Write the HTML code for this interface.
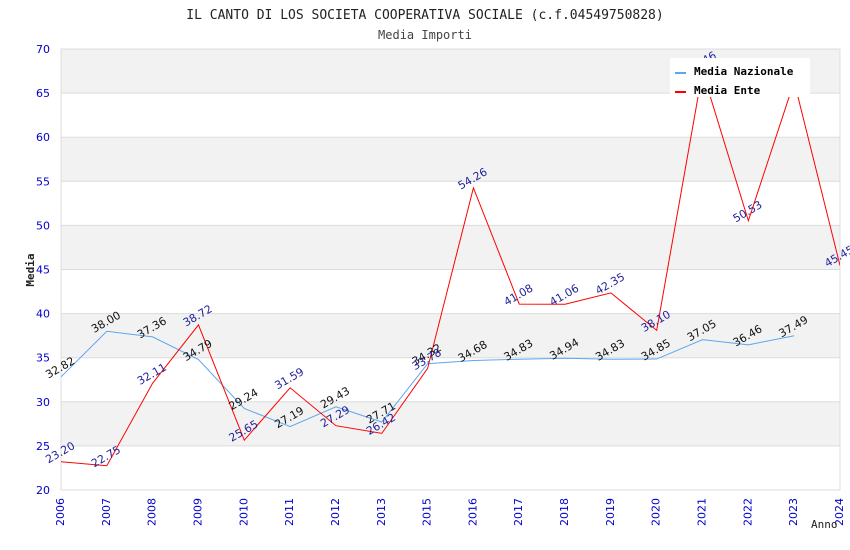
<!DOCTYPE html>
<html><head><meta charset="utf-8">
<style>
body{margin:0;background:#fff;}
svg{display:block;}
</style></head>
<body>
<svg id="chart" width="850" height="550" xmlns="http://www.w3.org/2000/svg">
<defs><clipPath id="plotclip"><rect x="61" y="49" width="779" height="441"/></clipPath></defs>
<text x="425" y="19" text-anchor="middle" font-family="DejaVu Sans Mono, Liberation Mono, monospace" font-size="13" fill="#222">IL CANTO DI LOS SOCIETA COOPERATIVA SOCIALE (c.f.04549750828)</text>
<text x="425" y="39" text-anchor="middle" font-family="DejaVu Sans Mono, Liberation Mono, monospace" font-size="12" fill="#444">Media Importi</text>
<g id="bands"></g><g id="grid"></g><g id="axes"></g><g id="series" clip-path="url(#plotclip)"></g><g id="labels"></g>
<text x="34" y="270" transform="rotate(-90 34 270)" text-anchor="middle" font-family="DejaVu Sans Mono, monospace" font-size="11" font-weight="bold" fill="#222">Media</text>
<text x="811" y="528" font-family="DejaVu Sans Mono, monospace" font-size="11" fill="#222">Anno</text>
<g>
<rect x="670" y="58" width="140" height="39" fill="#fff"/>
<rect x="675" y="72" width="11" height="2" fill="#5aa7f0"/>
<text x="694" y="75" font-family="DejaVu Sans Mono, monospace" font-size="11" font-weight="bold" fill="#000">Media Nazionale</text>
<rect x="675" y="91" width="11" height="2" fill="#f00"/>
<text x="694" y="94" font-family="DejaVu Sans Mono, monospace" font-size="11" font-weight="bold" fill="#000">Media Ente</text>
</g>
</svg>
<script>
const categories=["2006","2007","2008","2009","2010","2011","2012","2013","2015","2016","2017","2018","2019","2020","2021","2022","2023","2024"];
const nazionale=[32.82,38.00,37.36,34.79,29.24,27.19,29.43,27.71,34.32,34.68,34.83,34.94,34.83,34.85,37.05,36.46,37.49,null];
const ente=[23.20,22.75,32.11,38.72,25.65,31.59,27.29,26.42,33.78,54.26,41.08,41.06,42.35,38.10,67.46,50.53,66.30,45.45];
const yTicks=[20,25,30,35,40,45,50,55,60,65,70];
const X0=61,X1=840,Y0=490,Y1=49,YMIN=20,YMAX=70;
const xs=i=>X0+i*(X1-X0)/(categories.length-1);
const ys=v=>Y0-(v-YMIN)*(Y0-Y1)/(YMAX-YMIN);
const NS="http://www.w3.org/2000/svg";
function mk(tag,attrs,parent){const e=document.createElementNS(NS,tag);for(const k in attrs)e.setAttribute(k,attrs[k]);document.getElementById(parent).appendChild(e);return e;}
for(let i=0;i<yTicks.length-1;i++){
  if((yTicks.length-2-i)%2===0){
    const b=mk('rect',{x:X0,y:ys(yTicks[i+1]),width:X1-X0,height:ys(yTicks[i])-ys(yTicks[i+1]),fill:'#f2f2f2'},'bands');
    
    
  }
}
yTicks.forEach(t=>{
  const l=mk('line',{x1:X0,x2:X1,y1:ys(t),y2:ys(t),stroke:'#dcdcdc','stroke-width':1},'grid');
  
  
  const tx=mk('text',{x:50,y:ys(t)+4,'text-anchor':'end','font-family':'DejaVu Sans, Liberation Sans, sans-serif','font-size':11,fill:'#00c'},'axes');
  tx.textContent=t;
  
  
});
const bx=mk('rect',{x:X0,y:Y1,width:X1-X0,height:Y0-Y1,fill:'none',stroke:'#dcdcdc'},'grid');


categories.forEach((c,i)=>{
  const x=xs(i),y=Y0+8;
  const t=mk('text',{x:x,y:y,transform:`rotate(-90 ${x} ${y})`,'text-anchor':'end','dominant-baseline':'middle','font-family':'DejaVu Sans, Liberation Sans, sans-serif','font-size':11,fill:'#00c'},'axes');
  t.textContent=c;
  
  
});
function drawSeries(vals,color,labelColor,name){
  let pts=[];vals.forEach((v,i)=>{if(v!==null)pts.push(xs(i)+','+ys(v));});
  const p=mk('polyline',{points:pts.join(' '),fill:'none',stroke:color,'stroke-width':1},'series');
  
  
  vals.forEach((v,i)=>{
    if(v===null)return;
    const x=xs(i)+1,y=ys(v)-6;
    const t=mk('text',{x:x,y:y,transform:`rotate(-30 ${x} ${y})`,'text-anchor':'middle','font-family':'DejaVu Sans, Liberation Sans, sans-serif','font-size':11,fill:labelColor},'labels');
    t.textContent=v.toFixed(2);
    
    
  });
}
drawSeries(nazionale,'#5aa7f0','#111','nazionale');
drawSeries(ente,'#f00','#22229a','ente');
</script>
</body></html>
